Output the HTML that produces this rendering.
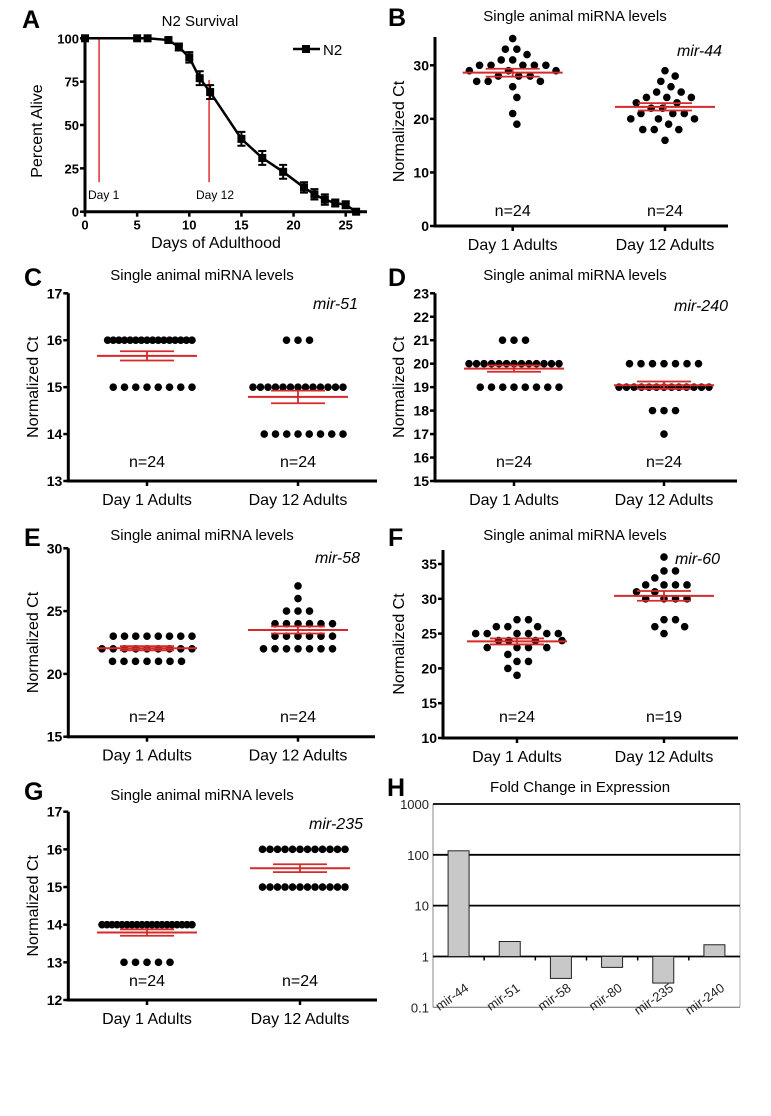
<!DOCTYPE html>
<html><head><meta charset="utf-8"><style>
body{margin:0;background:#fff;}
svg{display:block;font-family:"Liberation Sans",Arial,sans-serif;}
</style></head><body>
<svg id="fig" width="771" height="1116" viewBox="0 0 771 1116" xmlns="http://www.w3.org/2000/svg"></svg>
<script>
// ---- Panel A data ----
const survDays = [0,5,6,8,9,10,11,12,15,17,19,21,22,23,24,25,26];
const survPct  = [100,100,100,99,95,89,77,69,42,31,23,14,10,7,5,4,0];
const survErr  = [0,0,0,1,2,3,4,4,4,4,4,3,3,3,2,2,0];
const survXTicks = [0,5,10,15,20,25];
const survYTicks = [0,25,50,75,100];
// ---- Scatter data ----
const groups = ["Day 1 Adults","Day 12 Adults"];
const b_day1 = [35,33,33,32,31,31,30,30,30,30,30,29,29,29,28,28,28,27,27,27,26,24,21,19];
const b_day12 = [29,28,27,26,25,25,24,24,24,23,23,22,22,21,21,21,20,20,20,19,18,18,18,16];
const b_ticks = [0,10,20,30];
const c_day1 = [16,16,16,16,16,16,16,16,16,16,16,16,16,16,16,16,15,15,15,15,15,15,15,15];
const c_day12 = [16,16,16,15,15,15,15,15,15,15,15,15,15,15,15,15,14,14,14,14,14,14,14,14];
const c_ticks = [13,14,15,16,17];
const d_day1 = [21,21,21,20,20,20,20,20,20,20,20,20,20,20,20,20,19,19,19,19,19,19,19,19];
const d_day12 = [20,20,20,20,20,20,20,19,19,19,19,19,19,19,19,19,19,19,19,19,18,18,18,17];
const d_ticks = [15,16,17,18,19,20,21,22,23];
const e_day1 = [23,23,23,23,23,23,23,23,22,22,22,22,22,22,22,22,22,21,21,21,21,21,21,21];
const e_day12 = [27,26,25,25,25,24,24,24,24,24,24,23,23,23,23,23,23,22,22,22,22,22,22,22];
const e_ticks = [15,20,25,30];
const f_day1 = [27,27,26,26,26,25,25,25,25,25,25,24,24,24,24,23,23,23,23,22,21,21,20,19];
const f_day12 = [36,34,34,33,32,32,32,32,31,31,30,30,30,30,27,27,26,26,25];
const f_ticks = [10,15,20,25,30,35];
const g_day1 = [14,14,14,14,14,14,14,14,14,14,14,14,14,14,14,14,14,14,14,13,13,13,13,13];
const g_day12 = [16,16,16,16,16,16,16,16,16,16,16,16,15,15,15,15,15,15,15,15,15,15,15,15];
const g_ticks = [12,13,14,15,16,17];
const nLabels = ["n=24","n=24"];
const fNLabels = ["n=24","n=19"];
// ---- Panel H data ----
const foldCats = ["mir-44","mir-51","mir-58","mir-80","mir-235","mir-240"];
const foldVals = [120,1.97,0.37,0.61,0.30,1.7];
const foldTicks = ["1000","100","10","1","0.1"];

const NS="http://www.w3.org/2000/svg";
const svg=document.getElementById('fig');
function el(tag,attrs,parent,text){
  const e=document.createElementNS(NS,tag);
  for(const k in attrs)e.setAttribute(k,attrs[k]);
  if(text!==undefined)e.textContent=text;
  (parent||svg).appendChild(e);return e;
}
function grp(name){const g=el('g',{});


return g;}

// ===== Panel A =====
(function(){
  const g=grp('panel-a');
  const x0=85,x1=345.7,y0=211.7,y1=38.3;
  const X=d=>x0+(x1-x0)*d/25, Y=v=>y0-(y0-y1)*v/100;
  let t=el('text',{x:22,y:28,'font-size':25,'font-weight':'bold'},g,'A');
  
  t=el('text',{x:200,y:26,'font-size':15,'text-anchor':'middle'},g,'N2 Survival');
  
  let a=el('line',{x1:x0,y1:Y(100),x2:x0,y2:y0+1.5,stroke:'#000','stroke-width':3},g);
  
  a=el('line',{x1:x0-1.5,y1:y0,x2:367,y2:y0,stroke:'#000','stroke-width':3},g);
  
  survYTicks.forEach(v=>{
    let l=el('line',{x1:x0-5,y1:Y(v),x2:x0,y2:Y(v),stroke:'#000','stroke-width':2.5},g);
    
    let tx=el('text',{x:x0-6,y:Y(v)+5,'font-size':13,'font-weight':'bold','text-anchor':'end'},g,String(v));
    
  });
  survXTicks.forEach(v=>{
    let l=el('line',{x1:X(v),y1:y0,x2:X(v),y2:y0+5,stroke:'#000','stroke-width':2.5},g);
    
    let tx=el('text',{x:X(v),y:y0+18,'font-size':13,'font-weight':'bold','text-anchor':'middle'},g,String(v));
    
  });
  t=el('text',{x:216,y:248,'font-size':16,'text-anchor':'middle'},g,'Days of Adulthood');
  
  t=el('text',{x:0,y:0,'font-size':16,'text-anchor':'middle',transform:'translate(42,131) rotate(-90)'},g,'Percent Alive');
  
  let r=el('line',{x1:X(1.35),y1:Y(100),x2:X(1.35),y2:Y(17),stroke:'#e03030','stroke-width':1.5},g);
  
  r=el('line',{x1:X(11.9),y1:Y(76),x2:X(11.9),y2:Y(17),stroke:'#e03030','stroke-width':1.5},g);
  
  t=el('text',{x:88,y:199,'font-size':12},g,'Day 1');
  
  t=el('text',{x:196,y:199,'font-size':12},g,'Day 12');
  
  const pts=survDays.map((d,i)=>X(d)+','+Y(survPct[i])).join(' ');
  let pl=el('polyline',{points:pts,fill:'none',stroke:'#000','stroke-width':2.5},g);
  
  survDays.forEach((d,i)=>{
    const cx=X(d),cy=Y(survPct[i]),e=survErr[i];
    if(e>0){
      let eb=el('path',{d:`M${cx},${Y(survPct[i]+e)}V${Y(survPct[i]-e)}M${cx-4},${Y(survPct[i]+e)}h8M${cx-4},${Y(survPct[i]-e)}h8`,stroke:'#000','stroke-width':2,fill:'none'},g);
      
    }
    let m=el('rect',{x:cx-4,y:cy-4,width:8,height:8,fill:'#000'},g);
    
  });
  let lg=el('line',{x1:293,y1:49,x2:320,y2:49,stroke:'#000','stroke-width':2.5},g);
  
  lg=el('rect',{x:302,y:45,width:8,height:8,fill:'#000'},g);
  
  t=el('text',{x:323,y:55,'font-size':15},g,'N2');
  
})();

// beeswarm layout: returns x offsets
function swarm(ys,dmin,maxRow){
  const placed=[];const offs=new Array(ys.length);
  ys.forEach((y,i)=>{
    const cands=[0];
    placed.forEach(p=>{const dy=Math.abs(p.y-y);if(dy<dmin){const dx=Math.sqrt(dmin*dmin-dy*dy);cands.push(p.x+dx,p.x-dx);}});
    cands.sort((a,b)=>Math.abs(a)-Math.abs(b)||b-a);
    let x=0;
    for(const c of cands){
      if(placed.every(p=>(p.x-c)**2+(p.y-y)**2>=dmin*dmin-0.01)){x=c;break;}
    }
    placed.push({x,y});offs[i]=x;
  });
  // compress overly wide rows of identical values
  const rows={};ys.forEach((y,i)=>{(rows[y]=rows[y]||[]).push(i);});
  for(const k in rows){
    const idx=rows[k];const mx=Math.max(...idx.map(i=>Math.abs(offs[i])));
    if(mx>maxRow){idx.forEach(i=>{offs[i]*=maxRow/mx;});}
  }
  return offs;
}

// ===== Scatter panels =====
function scatter(c){
  const g=grp(c.name);
  const Y=v=>c.y0-(c.y0-c.y1)*(v-c.vmin)/(c.vmax-c.vmin);
  let t=el('text',{x:c.lx,y:c.ly,'font-size':25,'font-weight':'bold'},g,c.letter);
  
  t=el('text',{x:c.tx,y:c.ty,'font-size':15,'text-anchor':'middle'},g,'Single animal miRNA levels');
  
  const top=c.top!==undefined?c.top:Y(c.vmax);
  let a=el('line',{x1:c.ax,y1:top,x2:c.ax,y2:c.y0+1.5,stroke:'#000','stroke-width':3},g);
  
  a=el('line',{x1:c.ax-1.5,y1:c.y0,x2:c.xend,y2:c.y0,stroke:'#000','stroke-width':3},g);
  
  c.ticks.forEach(v=>{
    let l=el('line',{x1:c.ax-5,y1:Y(v),x2:c.ax,y2:Y(v),stroke:'#000','stroke-width':2.5},g);
    
    let tx=el('text',{x:c.ax-6,y:Y(v)+5,'font-size':14,'font-weight':'bold','text-anchor':'end'},g,String(v));
    
  });
  t=el('text',{x:0,y:0,'font-size':16,'text-anchor':'middle',transform:`translate(${c.yl},${(top+c.y0)/2}) rotate(-90)`},g,'Normalized Ct');
  
  t=el('text',{x:c.mx,y:c.my,'font-size':16,'font-style':'italic','text-anchor':'end'},g,c.mir);
  
  [c.d1,c.d2].forEach((data,gi)=>{
    const cx=c.cx[gi];
    let l=el('line',{x1:cx,y1:c.y0,x2:cx,y2:c.y0+5,stroke:'#000','stroke-width':2.5},g);
    
    let tx=el('text',{x:cx,y:c.y0+24,'font-size':16,'text-anchor':'middle'},g,groups[gi]);
    
    tx=el('text',{x:cx,y:c.ny,'font-size':16,'text-anchor':'middle'},g,c.n[gi]);
    
    const ys=data.map(Y);
    const offs=swarm(ys,c.dmin||11.5,c.maxRow||45);
    data.forEach((v,i)=>{
      let d=el('circle',{cx:cx+offs[i],cy:ys[i],r:3.8,fill:'#000'},g);
      
    });
    const n=data.length,mean=data.reduce((s,v)=>s+v,0)/n;
    const sd=Math.sqrt(data.reduce((s,v)=>s+(v-mean)*(v-mean),0)/(n-1)),sem=sd/Math.sqrt(n);
    let m=el('line',{x1:cx-50,y1:Y(mean),x2:cx+50,y2:Y(mean),stroke:'#d42a2a','stroke-width':2},g);
    
    m=el('path',{d:`M${cx},${Y(mean+sem)}V${Y(mean-sem)}M${cx-27},${Y(mean+sem)}h54M${cx-27},${Y(mean-sem)}h54`,stroke:'#d42a2a','stroke-width':1.8,fill:'none'},g);
    
  });
}
scatter({name:'panel-b',letter:'B',lx:388,ly:26,tx:575,ty:21,ax:435,y0:226,y1:65.3,vmin:0,vmax:30,top:37,xend:728,cx:[512.7,665],ticks:b_ticks,d1:b_day1,d2:b_day12,yl:404,mx:722,my:56,mir:'mir-44',ny:216,n:nLabels});
scatter({name:'panel-c',letter:'C',lx:24,ly:286,tx:202,ty:280,ax:68.3,y0:481,y1:293.3,vmin:13,vmax:17,xend:377,cx:[147,298],ticks:c_ticks,d1:c_day1,d2:c_day12,yl:38,mx:358,my:309,mir:'mir-51',ny:467,n:nLabels});
scatter({name:'panel-d',letter:'D',lx:388,ly:286,tx:575,ty:280,ax:435,y0:481,y1:293.3,vmin:15,vmax:23,xend:737,cx:[514,664],ticks:d_ticks,d1:d_day1,d2:d_day12,yl:404,mx:728,my:311,mir:'mir-240',ny:467,n:nLabels});
scatter({name:'panel-e',letter:'E',lx:24,ly:546,tx:202,ty:540,ax:68.3,y0:736.7,y1:548.3,vmin:15,vmax:30,xend:375,cx:[147,298],ticks:e_ticks,d1:e_day1,d2:e_day12,yl:38,mx:360,my:563,mir:'mir-58',ny:722,n:nLabels});
scatter({name:'panel-f',letter:'F',lx:388,ly:546,tx:575,ty:540,ax:443,y0:738,y1:564,vmin:10,vmax:35,top:550,xend:738,cx:[517,664],ticks:f_ticks,d1:f_day1,d2:f_day12,yl:404,mx:720,my:564,mir:'mir-60',ny:722,n:fNLabels});
scatter({name:'panel-g',letter:'G',lx:24,ly:800,tx:202,ty:800,ax:68.3,y0:1000,y1:811.7,vmin:12,vmax:17,xend:377,cx:[147,300],ticks:g_ticks,d1:g_day1,d2:g_day12,yl:38,mx:363,my:829,mir:'mir-235',ny:986,n:nLabels});

// ===== Panel H =====
(function(){
  const g=grp('panel-h');
  const L=433,R=740,yTop=804,yBot=1007.3;
  const Y=v=>yBot-(yBot-yTop)*(Math.log10(v)+1)/4;
  const band=(R-L)/foldCats.length;
  let t=el('text',{x:387,y:796,'font-size':25,'font-weight':'bold'},g,'H');
  
  t=el('text',{x:580,y:792,'font-size':15,'text-anchor':'middle'},g,'Fold Change in Expression');
  
  let a=el('line',{x1:L,y1:yTop,x2:L,y2:yBot,stroke:'#888','stroke-width':1},g);
  
  a=el('line',{x1:R,y1:yTop,x2:R,y2:yBot,stroke:'#aaa','stroke-width':1},g);
  
  a=el('line',{x1:L,y1:yBot,x2:R,y2:yBot,stroke:'#666','stroke-width':1},g);
  
  foldTicks.forEach(s=>{
    const y=Y(parseFloat(s));
    if(parseFloat(s)>0.1){
      let l=el('line',{x1:L,y1:y,x2:R,y2:y,stroke:'#000','stroke-width':1.8},g);
      
    }
    let tx=el('text',{x:L-4,y:y+5,'font-size':13,'text-anchor':'end',fill:'#222'},g,s);
    
  });
  foldCats.forEach((c,i)=>{
    const cx=L+band*(i+0.5),v=foldVals[i],y1=Y(1),yv=Y(v);
    let b=el('rect',{x:cx-10.5,y:Math.min(y1,yv),width:21,height:Math.abs(yv-y1),fill:'#c8c8c8',stroke:'#222','stroke-width':1},g);
    
    if(i>0){
      let tk=el('line',{x1:L+band*i,y1:Y(1),x2:L+band*i,y2:Y(1)+4,stroke:'#000','stroke-width':1.5},g);
      
    }
    let tx=el('text',{x:0,y:0,'font-size':13,'text-anchor':'end',fill:'#222',transform:`translate(${cx+11},${990}) rotate(-35)`},g,c);
    
  });
})();
</script>
</body></html>
